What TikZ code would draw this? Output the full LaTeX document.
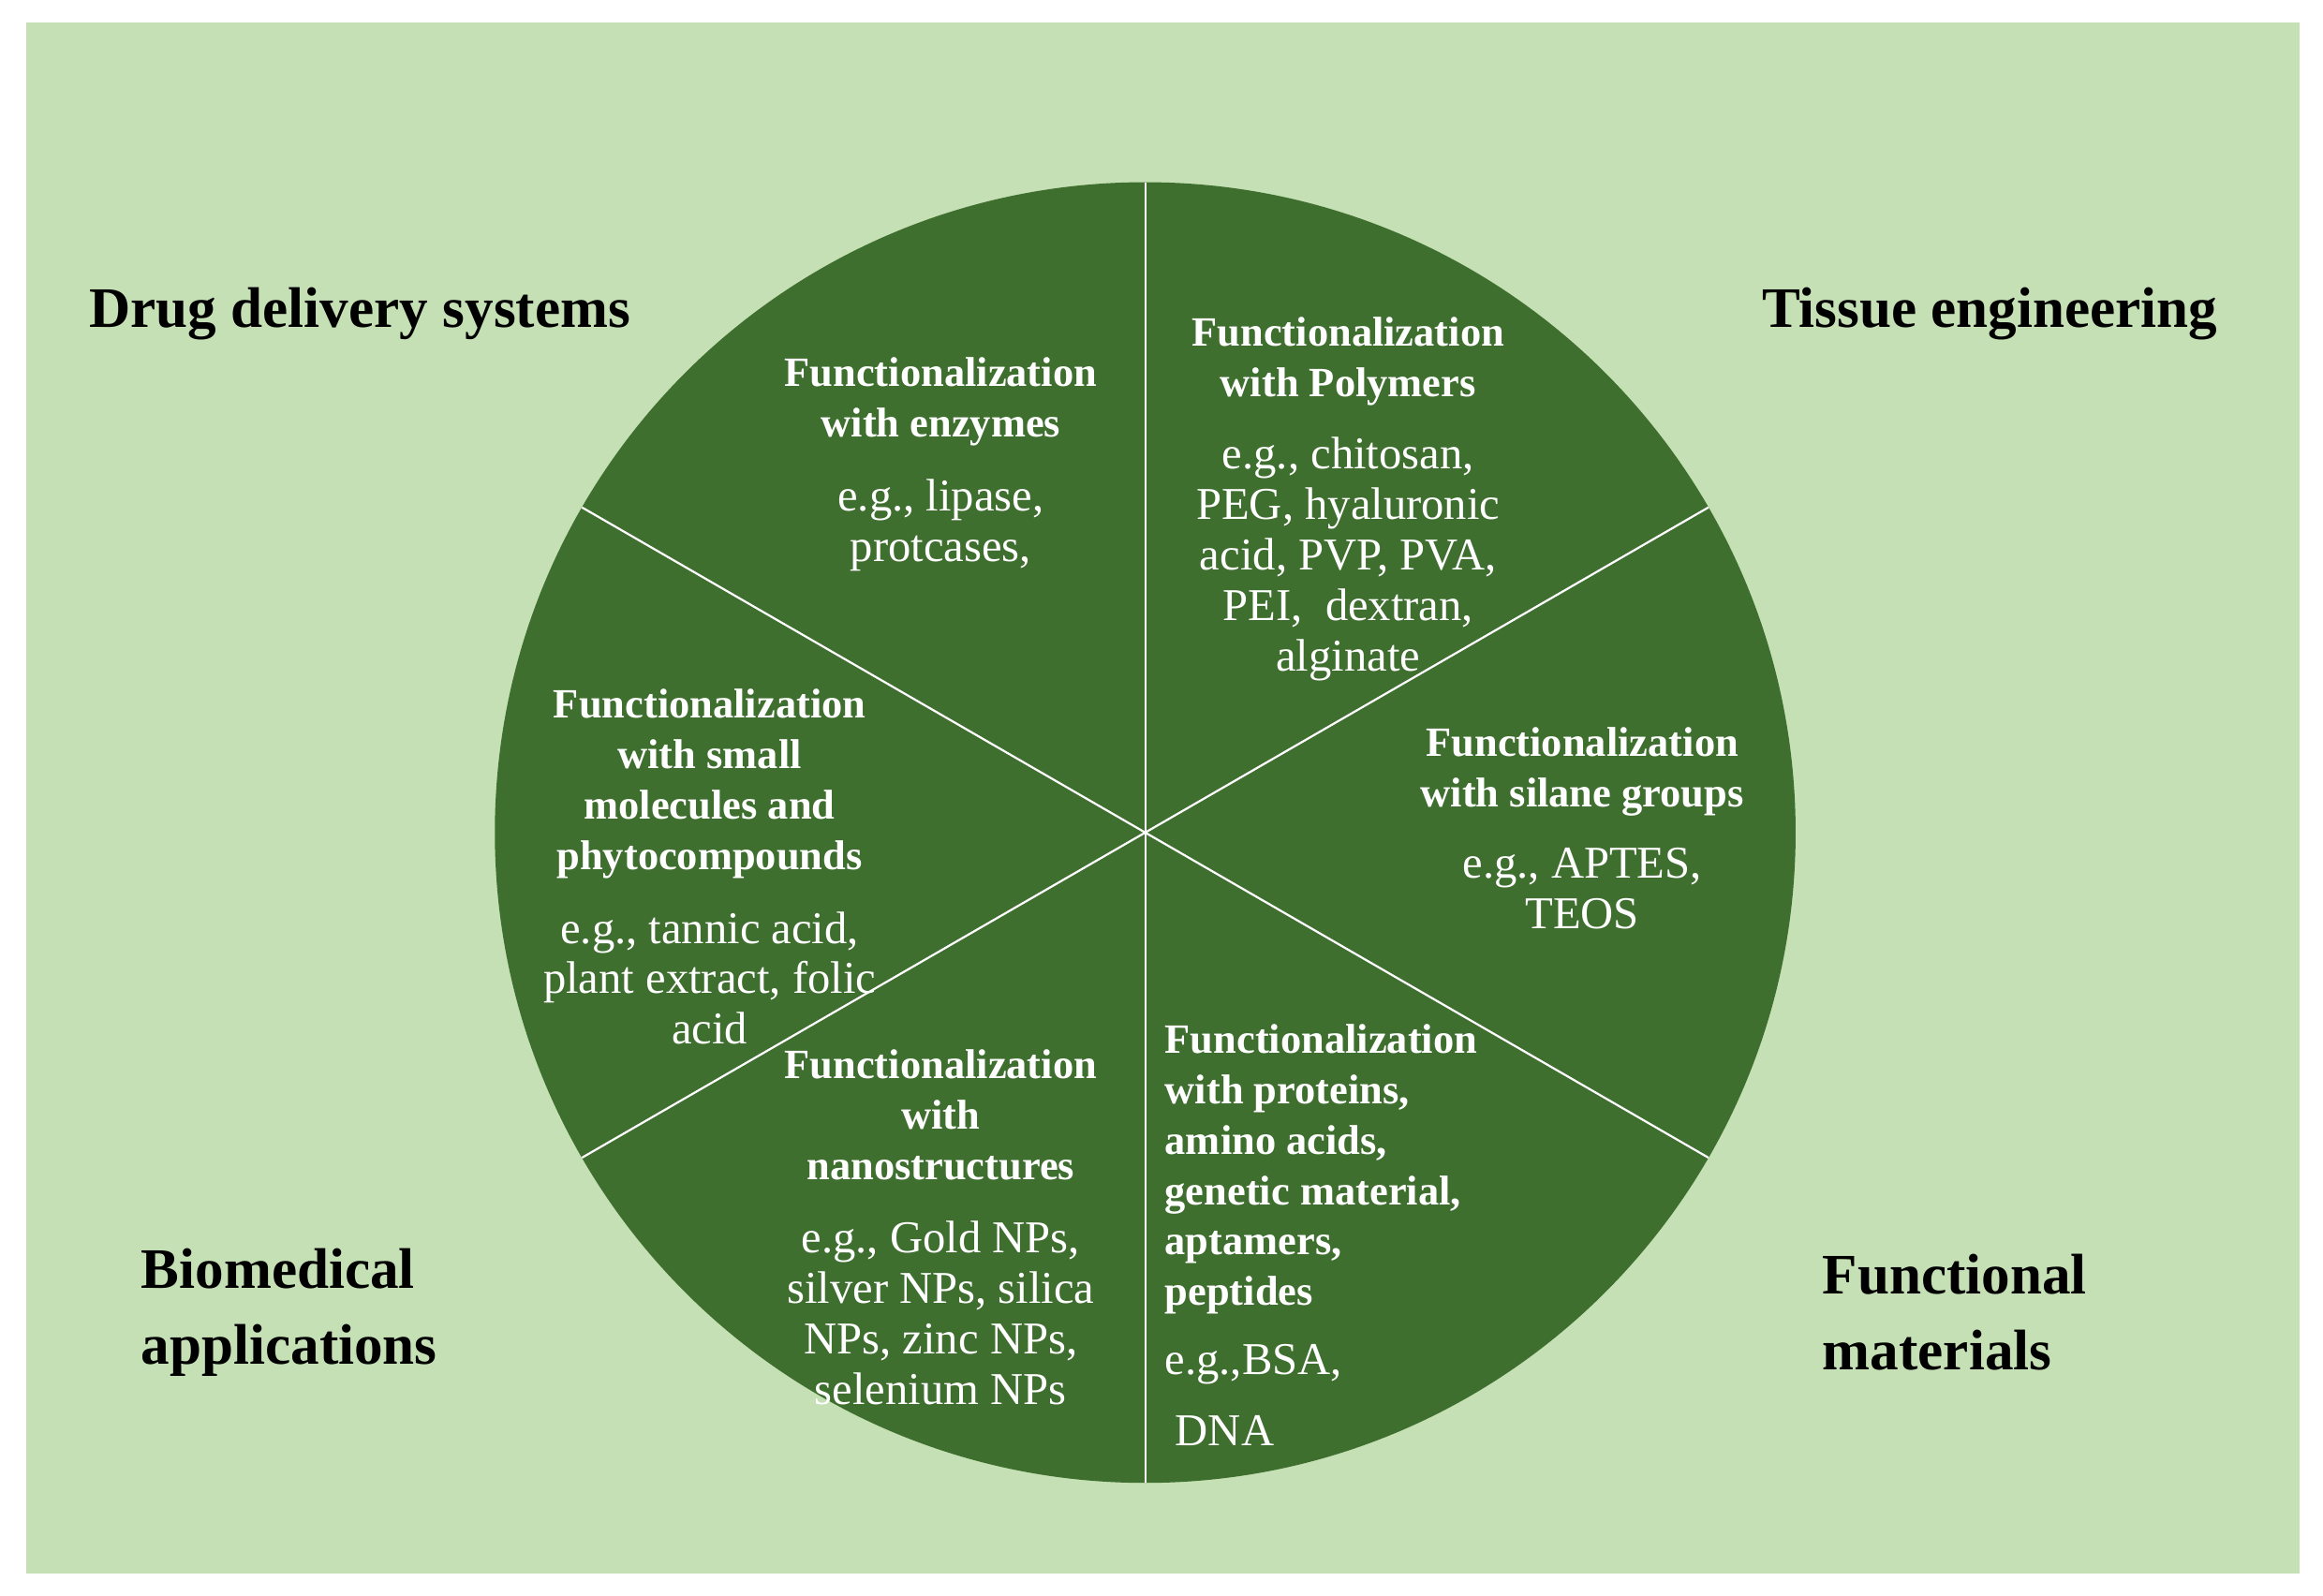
\documentclass[tikz,border=0pt]{standalone}
\usepackage{fontspec}
\setmainfont{Liberation Serif}
\definecolor{bgg}{HTML}{C5E0B4}
\definecolor{dg}{HTML}{3F6F2F}
\begin{document}
\begin{tikzpicture}[x=0.02cm,y=-0.02cm,
  bt/.style={text=white,font=\bfseries\fontsize{16}{19.4}\selectfont,align=center,inner sep=0pt,anchor=north},
  nt/.style={text=white,font=\fontsize{17.5}{19.4}\selectfont,align=center,inner sep=0pt,anchor=north},
  tt/.style={text=black,font=\bfseries\fontsize{22}{29}\selectfont,inner sep=0pt}]
\useasboundingbox (0,0) rectangle (1568,1077);
\fill[bgg] (18,15) rectangle (1552,1062);
\coordinate (c) at (773,562);
\fill[dg] (c) circle[radius=439];
\draw[white,line width=0.8pt] (c) -- +(90:-439) (c) -- +(90:439);
\draw[white,line width=0.8pt] (c) -- +(30:439) (c) -- +(210:439);
\draw[white,line width=0.8pt] (c) -- +(150:439) (c) -- +(330:439);
% titles
\node[tt] (t1) at (243,212) {Drug delivery systems};
\node[tt] (t2) at (1343,212) {Tissue engineering};
\node[tt,align=left,anchor=west] (t3) at (95,886) {Biomedical\\applications};
\node[tt,align=left,anchor=west] (t4) at (1230,886) {Functional\\materials};
% sectors
\node[bt] (a1) at (635,241) {Functionalization\\with enzymes};
\node[nt] (a2) at (635,323) {e.g., lipase,\\protcases,};
\node[bt] (b1) at (910,214) {Functionalization\\with Polymers};
\node[nt] (b2) at (910,295) {e.g., chitosan,\\PEG, hyaluronic\\acid, PVP, PVA,\\PEI,\ \ dextran,\\alginate};
\node[bt] (c1) at (479,465) {Functionalization\\with small\\molecules and\\phytocompounds};
\node[nt] (c2) at (479,615) {e.g., tannic acid,\\plant extract, folic\\acid};
\node[bt] (d1) at (1068,491) {Functionalization\\with silane groups};
\node[nt] (d2) at (1068,572) {e.g., APTES,\\TEOS};
\node[bt] (e1) at (635,708) {Functionalization\\with\\nanostructures};
\node[nt] (e2) at (635,824) {e.g., Gold NPs,\\silver NPs, silica\\NPs, zinc NPs,\\selenium NPs};
\node[bt,align=left,anchor=north west] (f1) at (786,691) {Functionalization\\with proteins,\\amino acids,\\genetic material,\\aptamers,\\peptides};
\node[nt,align=left,anchor=north west] (f2) at (786,907) {e.g.,BSA,};
\node[nt,align=left,anchor=north west] (f3) at (793,955) {DNA};
\end{tikzpicture}
\end{document}
